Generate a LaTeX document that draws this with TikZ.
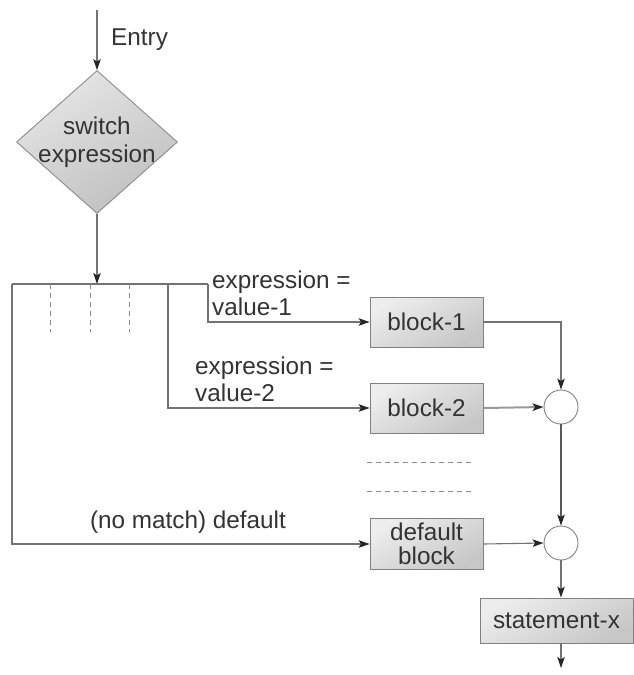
\documentclass[tikz,border=0pt]{standalone}
\usepackage{fontspec}
\setmainfont{Liberation Sans}
\usetikzlibrary{arrows.meta,shapes.geometric}
\newcommand\labfont{\fontsize{24.3}{27}\selectfont}
\begin{document}
\begin{tikzpicture}[x=1pt,y=-1pt,
  line/.style={draw=black!55, line width=1.1pt},
  arr/.style={line, -{Stealth[length=11pt,width=7.5pt,inset=2.5pt,color=black!85]}},
  dline/.style={draw=black!45, line width=1pt, dash pattern=on 5pt off 4pt},
  blk/.style={draw=black!50, line width=0.9pt, top color=black!7, bottom color=black!22, shading angle=30,
    text=black!80, minimum width=113pt, minimum height=50pt, inner sep=0pt, align=center, font=\labfont},
  jn/.style={circle, draw=black!50, line width=0.9pt, fill=white, minimum size=34pt, inner sep=0pt},
  lbl/.style={text=black!80, font=\labfont, inner sep=0pt, align=left}]
\useasboundingbox (0,0) rectangle (634,675);

% entry and decision
\coordinate (start) at (97,10);
\node[diamond, draw=black!45, line width=0.9pt, top color=black!10, bottom color=black!25, shading angle=30,
  minimum width=161pt, minimum height=143pt, inner sep=0pt] (sw) at (97,142) {};
\node[lbl, align=center, font=\fontsize{24.3}{28}\selectfont] (swtext) at (sw.center) {switch\\expression};
\node[lbl, anchor=west] (entry) at (111,40) {Entry};
\draw[arr] (start) -- (sw.north);

% distribution bar
\coordinate (bartop) at (97,284);
\coordinate (barL) at (12,284);
\coordinate (k2) at (168,284);
\coordinate (k1) at (208,284);
\draw[arr] (sw.south) -- (bartop);
\draw[line] (barL) -- (k1);

% dashed verticals
\coordinate (d1a) at (50,284); \coordinate (d1b) at (50,332);
\coordinate (d2a) at (90,284); \coordinate (d2b) at (90,332);
\coordinate (d3a) at (129,284); \coordinate (d3b) at (129,332);
\draw[dline] (d1a) -- (d1b);
\draw[dline] (d2a) -- (d2b);
\draw[dline] (d3a) -- (d3b);

% blocks
\node[blk] (b1) at (426.5,322) {block-1};
\node[blk] (b2) at (426.5,408) {block-2};
\node[blk, minimum height=51pt, font=\fontsize{24.3}{24.5}\selectfont] (db) at (426.5,544) {default\\block};
\node[blk, minimum width=153pt, minimum height=45pt] (sx) at (556.5,620.5) {statement-x};

% junctions
\node[jn] (c1) at (561,407) {};
\node[jn] (c2) at (561,543) {};

% branches
\draw[arr] (k1) |- (b1.west);
\draw[arr] (k2) |- (b2.west);
\draw[arr] (barL) |- (db.west);

\node[lbl, anchor=west] (l1) at (212,293.5) {expression =\\value-1};
\node[lbl, anchor=west] (l2) at (195,379) {expression =\\value-2};
\node[lbl] (l3) at (188,522) {(no match) default};

% dashed horizontals
\coordinate (h1a) at (367,462); \coordinate (h1b) at (472,462);
\coordinate (h2a) at (367,491); \coordinate (h2b) at (472,491);
\draw[dline] (h1a) -- (h1b);
\draw[dline] (h2a) -- (h2b);

% merges
\draw[arr] (b1.east) -| (c1.north);
\draw[arr, line width=2pt, draw=black!40] (b2.east) -- (c1.west);
\draw[arr, draw=black!65] (c1.south) -- (c2.north);
\draw[arr] (db.east) -- (c2.west);
\draw[arr] (c2.south) -- (c2.south |- sx.north);
\coordinate (out) at (561,668);
\draw[arr] (c2.south |- sx.south) -- (out);
\end{tikzpicture}
\end{document}
